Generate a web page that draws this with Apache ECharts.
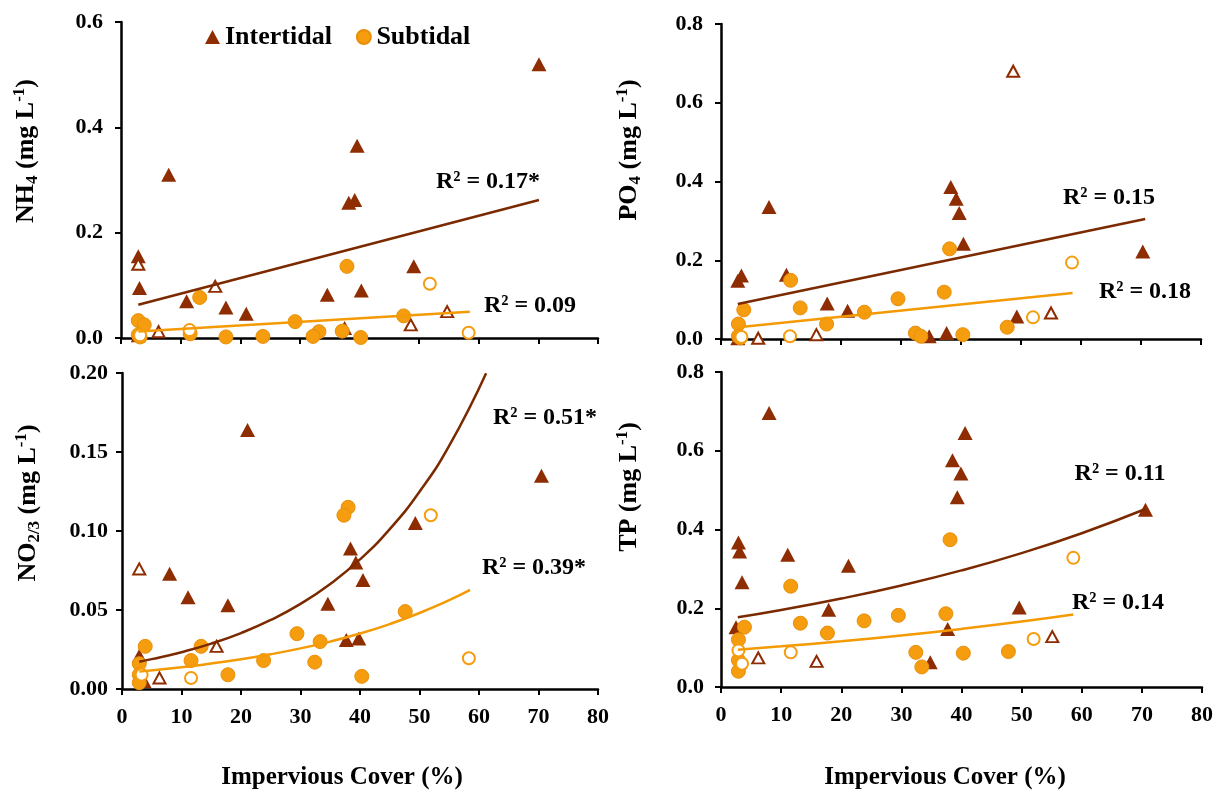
<!DOCTYPE html>
<html><head><meta charset="utf-8">
<script src="https://cdn.jsdelivr.net/npm/echarts@6/dist/echarts.min.js"></script>
<style>html,body{margin:0;padding:0;background:#fff}#c{width:1224px;height:791px}</style>
</head><body><div id="c"></div>
<script>
// ---------- data: [impervious cover %, concentration mg/L] ----------
const nh4IntFilled = [[70.1,0.520],[39.6,0.365],[8.0,0.310],[38.2,0.257],[39.2,0.262],[2.9,0.155],[3.1,0.095],[11.0,0.070],[17.6,0.058],[21.0,0.046],[34.6,0.082],[40.3,0.090],[49.1,0.136],[37.5,0.019],[2.9,0.005],[3.3,0.010]];
const nh4IntOpen = [[2.9,0.140],[15.8,0.098],[6.3,0.012],[48.6,0.025],[54.7,0.050]];
const nh4SubFilled = [[37.9,0.136],[13.2,0.077],[47.4,0.042],[29.2,0.031],[33.2,0.012],[32.2,0.003],[37.1,0.013],[40.2,0.001],[23.8,0.003],[17.6,0.002],[11.6,0.008],[2.9,0.033],[3.9,0.025],[2.9,0.006],[3.2,0.002]];
const nh4SubOpen = [[51.8,0.103],[58.3,0.010],[11.5,0.015],[3.2,0.005]];
const nh4IntTrend = [[2.9,0.063],[70.1,0.262]];
const nh4SubTrend = [[2.9,0.0125],[58.5,0.050]];

const po4IntFilled = [[38.3,0.386],[39.2,0.356],[39.7,0.320],[40.4,0.242],[8.0,0.335],[70.3,0.222],[3.4,0.161],[2.8,0.148],[10.9,0.163],[17.7,0.090],[21.1,0.072],[49.3,0.057],[37.6,0.015],[34.7,0.007],[2.8,0.002]];
const po4IntOpen = [[48.7,0.680],[55.0,0.066],[15.9,0.011],[6.2,0.002]];
const po4SubFilled = [[38.1,0.229],[11.6,0.149],[37.2,0.119],[29.5,0.102],[13.2,0.079],[3.8,0.074],[23.9,0.068],[17.6,0.038],[2.9,0.038],[47.7,0.030],[32.4,0.015],[33.3,0.007],[40.3,0.011],[2.9,0.007],[3.2,0.003]];
const po4SubOpen = [[58.5,0.194],[52.0,0.055],[11.5,0.007],[3.4,0.005]];
const po4IntTrend = [[2.8,0.089],[70.7,0.305]];
const po4SubTrend = [[2.9,0.030],[58.6,0.117]];

const no23IntFilled = [[21.1,0.164],[70.5,0.135],[49.3,0.105],[38.4,0.089],[39.3,0.080],[40.5,0.069],[8.0,0.073],[11.1,0.058],[17.8,0.053],[34.6,0.054],[37.7,0.031],[39.8,0.032],[2.9,0.021],[3.7,0.005]];
const no23IntOpen = [[2.9,0.076],[15.9,0.027],[6.3,0.007]];
const no23SubFilled = [[38.0,0.115],[37.3,0.110],[47.6,0.049],[29.4,0.035],[33.3,0.030],[32.4,0.017],[23.8,0.018],[13.3,0.027],[11.6,0.018],[17.8,0.009],[40.3,0.008],[3.9,0.027],[2.9,0.016],[2.9,0.009],[2.9,0.004]];
const no23SubOpen = [[51.9,0.110],[58.3,0.0195],[11.6,0.007],[3.3,0.009]];
const no23IntTrend = [[2.9,0.0173],[5,0.0189],[10,0.0233],[15,0.0287],[20,0.0354],[25,0.0437],[30,0.0539],[35,0.0665],[40,0.0820],[45,0.1012],[50,0.1249],[55,0.154],[61.2,0.1999]];
const no23SubTrend = [[2.9,0.0110],[10,0.0137],[15,0.0161],[20,0.0188],[25,0.0220],[30,0.0257],[35,0.0300],[40,0.0351],[45,0.0411],[50,0.0481],[55,0.0562],[58.5,0.0627]];

const tpIntFilled = [[8.0,0.696],[40.6,0.645],[38.5,0.576],[39.9,0.542],[39.3,0.482],[70.6,0.450],[2.9,0.367],[3.1,0.344],[11.1,0.336],[21.2,0.308],[3.5,0.266],[17.9,0.196],[49.6,0.202],[37.7,0.147],[2.5,0.152],[34.8,0.063]];
const tpIntOpen = [[55.1,0.128],[6.2,0.074],[15.9,0.065]];
const tpSubFilled = [[38.1,0.374],[11.6,0.256],[37.4,0.186],[29.5,0.182],[23.8,0.168],[13.2,0.162],[3.9,0.152],[17.7,0.137],[2.9,0.120],[32.4,0.088],[40.3,0.086],[47.8,0.090],[33.4,0.051],[2.9,0.068],[2.9,0.040]];
const tpSubOpen = [[58.6,0.328],[52.0,0.122],[11.6,0.088],[2.9,0.093],[3.5,0.059]];
const tpIntTrend = [[2.8,0.177],[10,0.1955],[20,0.2246],[30,0.2579],[40,0.2961],[50,0.3401],[60,0.3905],[70.6,0.452]];
const tpSubTrend = [[2.8,0.0947],[10,0.1032],[20,0.1162],[30,0.1309],[40,0.1475],[50,0.1661],[58.6,0.184]];

const r2Labels = ['R² = 0.17*','R² = 0.09','R² = 0.15','R² = 0.18','R² = 0.51*','R² = 0.39*','R² = 0.11','R² = 0.14'];
const xTitle = 'Impervious Cover (%)';
const seriesNames = ['Intertidal','Subtidal'];

// ---------- styling ----------
const FONT = 'Liberation Serif';
const BROWN = '#8E2C02';
const BROWN_LINE = '#7B2A00';
const ORANGE = '#F59C0F';
const ORANGE_LINE = '#F39A05';

const grids = [
  {left:121, top:22, width:477, height:316},
  {left:721, top:24, width:480, height:315},
  {left:122, top:373, width:476, height:316},
  {left:721, top:372, width:481, height:315}
];
const yRanges = [
  {max:0.6, interval:0.2, dec:1, margin:18},
  {max:0.8, interval:0.2, dec:1, margin:18},
  {max:0.2, interval:0.05, dec:2, margin:14},
  {max:0.8, interval:0.2, dec:1, margin:17}
];
const panels = [
  [nh4IntFilled, nh4IntOpen, nh4SubFilled, nh4SubOpen, nh4IntTrend, nh4SubTrend, false],
  [po4IntFilled, po4IntOpen, po4SubFilled, po4SubOpen, po4IntTrend, po4SubTrend, false],
  [no23IntFilled, no23IntOpen, no23SubFilled, no23SubOpen, no23IntTrend, no23SubTrend, true],
  [tpIntFilled, tpIntOpen, tpSubFilled, tpSubOpen, tpIntTrend, tpSubTrend, true]
];

const axisLine = {lineStyle:{color:'#000', width:2.5}};
const labelStyle = {color:'#000', fontFamily:FONT, fontWeight:'bold', fontSize:22};

const xAxes = grids.map((g,i)=>({
  type:'value', gridIndex:i, min:0, max:80, interval:10,
  axisLine:{onZero:false, ...axisLine},
  axisTick:{show:true, length:6, lineStyle:{color:'#000', width:2}},
  axisLabel:{show:i>=2, margin:17, ...labelStyle},
  splitLine:{show:false}
}));
const yAxes = grids.map((g,i)=>({
  type:'value', gridIndex:i, min:0, max:yRanges[i].max, interval:yRanges[i].interval,
  axisLine:{show:true, onZero:false, ...axisLine},
  axisTick:{show:true, length:6, lineStyle:{color:'#000', width:2}},
  axisLabel:{margin:yRanges[i].margin, ...labelStyle, formatter:v=>v.toFixed(yRanges[i].dec)},
  splitLine:{show:false}
}));

const series = [];
panels.forEach((p,i)=>{
  const base = {xAxisIndex:i, yAxisIndex:i};
  series.push({...base, type:'scatter', name:'Intertidal', symbol:'triangle', symbolSize:[15,14], data:p[0],
    itemStyle:{color:BROWN, opacity:1}, z:2});
  series.push({...base, type:'scatter', name:'Intertidal excluded', symbol:'triangle', symbolSize:[12,11], data:p[1],
    itemStyle:{color:'#fff', borderColor:BROWN, borderWidth:2, opacity:1}, z:2});
  series.push({...base, type:'scatter', name:'Subtidal', symbol:'circle', symbolSize:14, data:p[2],
    itemStyle:{color:ORANGE, borderColor:'#E8900A', borderWidth:1, opacity:1}, z:3});
  series.push({...base, type:'scatter', name:'Subtidal excluded', symbol:'circle', symbolSize:12, data:p[3],
    itemStyle:{color:'#fff', borderColor:ORANGE, borderWidth:2, opacity:1}, z:3});
  series.push({...base, type:'line', name:'Intertidal trend', data:p[4], showSymbol:false, symbol:'none',
    smooth:p[6]?0.5:false, clip:true, lineStyle:{color:BROWN_LINE, width:2.5}, z:4, silent:true});
  series.push({...base, type:'line', name:'Subtidal trend', data:p[5], showSymbol:false, symbol:'none',
    smooth:p[6]?0.5:false, clip:true, lineStyle:{color:ORANGE_LINE, width:2.5}, z:4, silent:true});
});

const r2Pos = [[488,182],[530,306],[1109,198],[1145,292],[545,418],[534,568],[1120,474],[1118,603]];
const textBase = {fontFamily:FONT, fontWeight:'bold', fill:'#000'};
const graphics = [];
r2Labels.forEach((t,i)=>{
  graphics.push({type:'text', x:r2Pos[i][0], y:r2Pos[i][1], z:10,
    style:{...textBase, text:t, fontSize:24, align:'center', verticalAlign:'middle'}});
});
[[342,778],[945,778]].forEach(pt=>{
  graphics.push({type:'text', x:pt[0], y:pt[1],
    style:{...textBase, text:xTitle, fontSize:25, align:'center', verticalAlign:'middle'}});
});
const richY = {
  a:{fontFamily:FONT, fontWeight:'bold', fontSize:26, lineHeight:30, color:'#000'},
  s:{fontFamily:FONT, fontWeight:'bold', fontSize:17, lineHeight:17, verticalAlign:'bottom', color:'#000'},
  p:{fontFamily:FONT, fontWeight:'bold', fontSize:17, lineHeight:17, verticalAlign:'top', color:'#000'}
};
const yTitles = [
  ['{a|NH}{s|4}{a| (mg L}{p|-1}{a|)}', 26, 151],
  ['{a|PO}{s|4}{a| (mg L}{p|-1}{a|)}', 629, 150],
  ['{a|NO}{s|2/3}{a| (mg L}{p|-1}{a|)}', 28, 503],
  ['{a|TP (mg L}{p|-1}{a|)}', 629, 487]
];
yTitles.forEach(t=>{
  graphics.push({type:'text', x:t[1], y:t[2], rotation:Math.PI/2,
    style:{text:t[0], rich:richY, align:'center', verticalAlign:'middle'}});
});

const chart = echarts.init(document.getElementById('c'));
chart.setOption({
  animation:false,
  backgroundColor:'#fff',
  grid:grids,
  xAxis:xAxes,
  yAxis:yAxes,
  legend:{
    data:[{name:seriesNames[0], icon:'triangle'},{name:seriesNames[1], icon:'circle'}],
    left:200, top:19, itemWidth:15, itemHeight:14, itemGap:24,
    textStyle:{fontFamily:FONT, fontWeight:'bold', fontSize:26, color:'#000'}
  },
  series:series,
  graphic:graphics
});
</script></body></html>
